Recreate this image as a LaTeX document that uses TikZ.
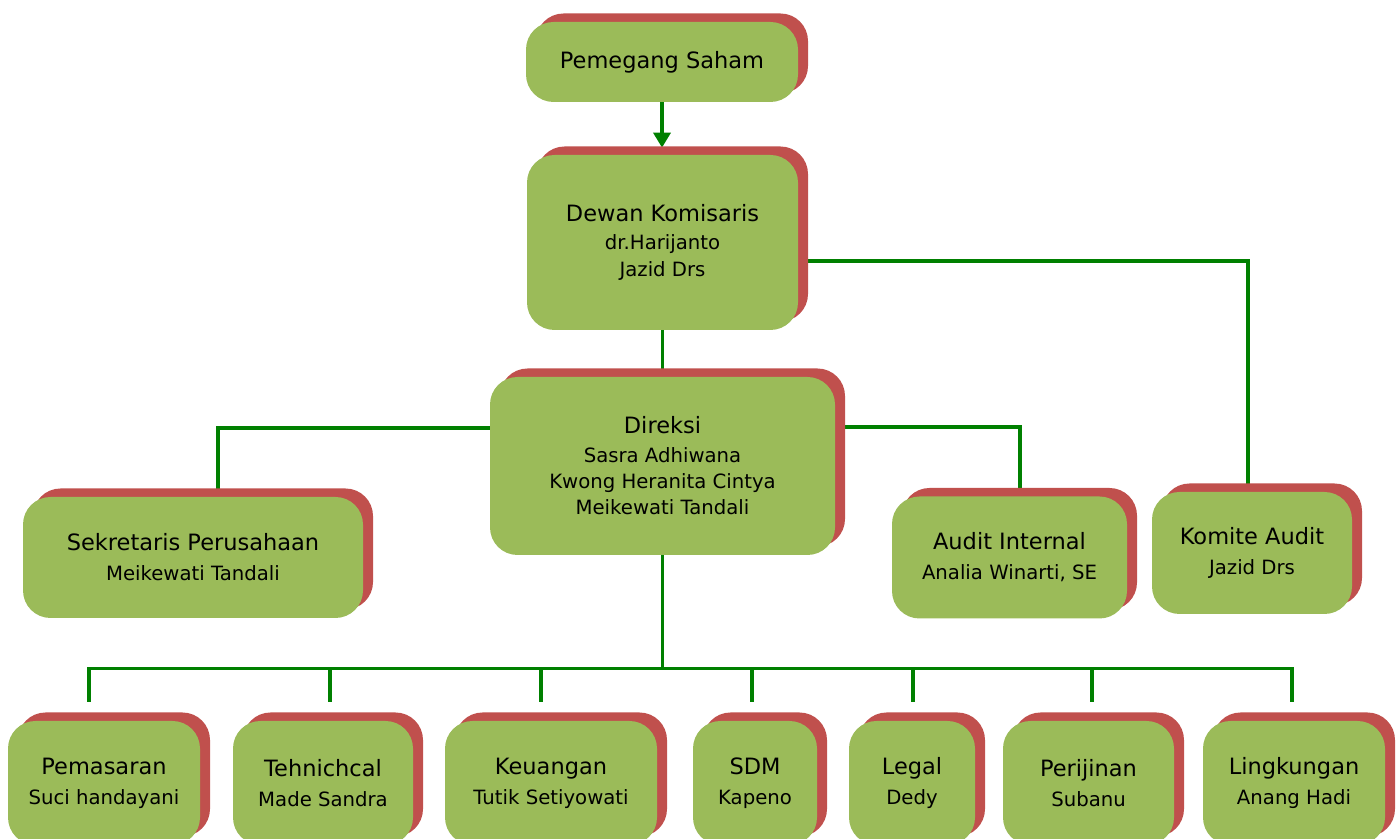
\documentclass[tikz,border=0pt]{standalone}
\usepackage{fontspec}
\setmainfont{DejaVu Sans}
\usetikzlibrary{arrows.meta,shadows,calc,backgrounds}
\definecolor{boxgreen}{HTML}{9BBB59}
\definecolor{boxred}{HTML}{C0504D}
\definecolor{linegreen}{HTML}{008000}
\newcommand{\ttl}{\fontsize{12.8}{17}\selectfont}
\tikzset{
    box/.style =    {rectangle,
                    rounded corners=0.55cm,
                    fill=boxgreen,
                    text=black,
                    align=center,
                    inner sep=0pt,
                    font=\fontsize{11.2}{15}\selectfont,
                    general shadow={shadow xshift=0.2cm,
                                    shadow yshift=0.17cm,
                                    fill=boxred}},
    link/.style =   {draw=linegreen,
                    line width=2pt},
    -,
    >={Triangle[width=0.34cm,length=0.3cm]}}

\begin{document}
\begin{tikzpicture}
    \useasboundingbox (0,0) rectangle (28,16.78);

    \node[box, minimum width=5.44cm, minimum height=1.6cm]  (saham)      at (13.24,15.54) {\ttl Pemegang Saham};
    \node[box, minimum width=5.42cm, minimum height=3.5cm]  (dewan)      at (13.25,11.93) {{\ttl Dewan Komisaris}\\[1pt]dr.Harijanto\\Jazid Drs};
    \node[box, minimum width=6.9cm,  minimum height=3.56cm] (direksi)    at (13.25,7.46)  {{\ttl Direksi}\\[1pt]Sasra Adhiwana\\Kwong Heranita Cintya\\Meikewati Tandali};
    \node[box, minimum width=6.8cm,  minimum height=2.42cm] (sekretaris) at (3.86,5.63)   {{\ttl Sekretaris Perusahaan}\\[2pt]Meikewati Tandali};
    \node[box, minimum width=4.7cm,  minimum height=2.44cm] (audit)      at (20.19,5.63)  {{\ttl Audit Internal}\\[2pt]Analia Winarti, SE};
    \node[box, minimum width=4.0cm,  minimum height=2.44cm] (komite)     at (25.04,5.72)  {{\ttl Komite Audit}\\[2pt]Jazid Drs};

    \node[box, minimum width=3.84cm, minimum height=2.48cm] (pemasaran)  at (2.08,1.12)   {{\ttl Pemasaran}\\[2pt]Suci handayani};
    \node[box, minimum width=3.6cm,  minimum height=2.48cm] (tehnik)     at (6.46,1.12)   {{\ttl Tehnichcal}\\[2pt]Made Sandra};
    \node[box, minimum width=4.24cm, minimum height=2.48cm] (keuangan)   at (11.02,1.12)  {{\ttl Keuangan}\\[2pt]Tutik Setiyowati};
    \node[box, minimum width=2.48cm, minimum height=2.48cm] (sdm)        at (15.1,1.12)   {{\ttl SDM}\\[2pt]Kapeno};
    \node[box, minimum width=2.52cm, minimum height=2.48cm] (legal)      at (18.24,1.12)  {{\ttl Legal}\\[2pt]Dedy};
    \node[box, minimum width=3.42cm, minimum height=2.48cm] (perijinan)  at (21.77,1.12)  {{\ttl Perijinan}\\[2pt]Subanu};
    \node[box, minimum width=3.64cm, minimum height=2.48cm] (lingkungan) at (25.88,1.12)  {{\ttl Lingkungan}\\[2pt]Anang Hadi};

    \coordinate (bus) at ($(direksi.south)+(0,-2.26)$);

    \begin{scope}[on background layer]
        \draw[link,->,shorten >=0.14cm] (saham.south) -- (saham.south |- dewan.north);
        \draw[link] (dewan) -- (direksi);
        \draw[link] ($(dewan.east)+(0,-0.37)$) -| ($(komite.north)+(-0.08,0)$);
        \draw[link] ($(direksi.east)+(0,0.78)$) -| ($(audit.north)+(0.21,0)$);
        \draw[link] ($(direksi.west)+(0,0.76)$) -| ($(sekretaris.north)+(0.5,0)$);
        \draw[link] (direksi) -- (bus);
        \foreach \b/\dx in {pemasaran/-0.3, tehnik/0.14, keuangan/-0.2, sdm/-0.06,
                            legal/0.02, perijinan/0.07, lingkungan/-0.04}
            \draw[link] ($(\b.north)+(\dx,0.38)$) |- (bus);
    \end{scope}
\end{tikzpicture}
\end{document}
